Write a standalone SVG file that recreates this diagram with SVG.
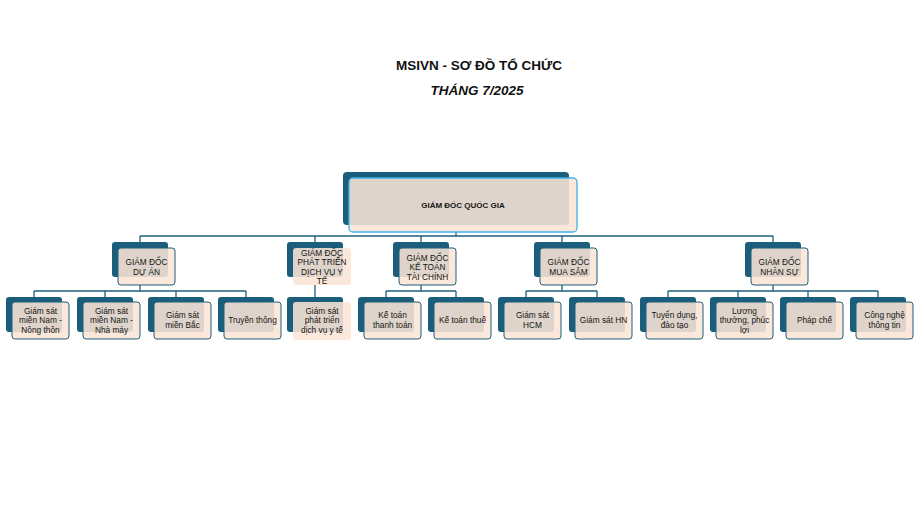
<svg xmlns="http://www.w3.org/2000/svg" width="918" height="505" viewBox="0 0 918 505">
<style>
.bg{fill:#ffffff}
.back{fill:#1b5e7b}
.front{fill:#fbe5d6;fill-opacity:0.88;stroke:#1f5f7c;stroke-width:1}
.front.nb{stroke:none}
.front.top{stroke:#3db4e5;stroke-width:1.3}
.conn{stroke:#1f5f7c;stroke-width:1.3;fill:none}
.t{font-family:"Liberation Sans",Arial,sans-serif;font-size:8.3px;fill:#141414;text-anchor:middle}
.tb{font-weight:bold;font-size:8px}
.title{font-family:"Liberation Sans",Arial,sans-serif;font-size:13.5px;font-weight:bold;fill:#111;text-anchor:middle}
</style>
<rect class="bg" x="0" y="0" width="918" height="505"/>
<text class="title" x="479" y="70">MSIVN - SƠ ĐỒ TỔ CHỨC</text>
<text class="title" x="477" y="95" font-style="italic">THÁNG 7/2025</text>

<g id="connectors">
<path class="conn" d="M456 232V236M140 236H773M140 236V242M315 236V242M421 236V242M562 236V242M773 236V242"/>
<path class="conn" d="M140 285V291M34 291H246M34 291V297M105 291V297M176 291V297M246 291V297"/>
<path class="conn" d="M315 285V297"/>
<path class="conn" d="M421 285V291M386 291H456M386 291V297M456 291V297"/>
<path class="conn" d="M562 285V291M526 291H597M526 291V297M597 291V297"/>
<path class="conn" d="M773 285V291M668 291H878M668 291V297M738 291V297M808 291V297M878 291V297"/>
</g>

<g id="n-quocgia">
<rect class="back" x="343" y="172" width="226" height="53" rx="4"/>
<rect class="front top" x="349" y="178" width="228" height="54" rx="4"/>
<text class="t tb" x="463" y="208">GIÁM ĐỐC QUỐC GIA</text>
</g>

<g id="n-duan">
<rect class="back" x="112" y="242" width="56" height="35" rx="3"/>
<rect class="front" x="118" y="248" width="57" height="37" rx="3"/>
<text class="t" x="146.5" y="265">GIÁM ĐỐC</text>
<text class="t" x="146.5" y="274.5">DỰ ÁN</text>
</g>

<g id="n-phattrien">
<rect class="back" x="287" y="242" width="56" height="35" rx="3"/>
<rect class="front nb" x="293" y="248" width="58" height="37" rx="3"/>
<text class="t" x="322" y="255.5">GIÁM ĐỐC</text>
<text class="t" x="322" y="265">PHÁT TRIỂN</text>
<text class="t" x="322" y="274.5">DỊCH VỤ Y</text>
<text class="t" x="322" y="284">TẾ</text>
</g>

<g id="n-ketoan">
<rect class="back" x="393" y="242" width="56" height="35" rx="3"/>
<rect class="front" x="399" y="248" width="57" height="37" rx="3"/>
<text class="t" x="427.5" y="260.5">GIÁM ĐỐC</text>
<text class="t" x="427.5" y="270">KẾ TOÁN</text>
<text class="t" x="427.5" y="279.5">TÀI CHÍNH</text>
</g>

<g id="n-muasam">
<rect class="back" x="534" y="242" width="56" height="35" rx="3"/>
<rect class="front" x="540" y="248" width="57" height="37" rx="3"/>
<text class="t" x="568.5" y="265">GIÁM ĐỐC</text>
<text class="t" x="568.5" y="274.5">MUA SẮM</text>
</g>

<g id="n-nhansu">
<rect class="back" x="745" y="242" width="56" height="35" rx="3"/>
<rect class="front" x="751" y="248" width="57" height="37" rx="3"/>
<text class="t" x="779.5" y="265">GIÁM ĐỐC</text>
<text class="t" x="779.5" y="274.5">NHÂN SỰ</text>
</g>

<g id="n-mnnongthon">
<rect class="back" x="6" y="297" width="56" height="35" rx="3"/>
<rect class="front" x="12" y="302" width="57" height="37" rx="3"/>
<text class="t" x="40.5" y="313.5">Giám sát</text>
<text class="t" x="40.5" y="323">miền Nam -</text>
<text class="t" x="40.5" y="332.5">Nông thôn</text>
</g>

<g id="n-mnnhamay">
<rect class="back" x="77" y="297" width="56" height="35" rx="3"/>
<rect class="front" x="83" y="302" width="57" height="37" rx="3"/>
<text class="t" x="111.5" y="313.5">Giám sát</text>
<text class="t" x="111.5" y="323">miền Nam -</text>
<text class="t" x="111.5" y="332.5">Nhà máy</text>
</g>

<g id="n-mienbac">
<rect class="back" x="148" y="297" width="56" height="35" rx="3"/>
<rect class="front" x="154" y="302" width="57" height="37" rx="3"/>
<text class="t" x="182.5" y="318">Giám sát</text>
<text class="t" x="182.5" y="327.5">miền Bắc</text>
</g>

<g id="n-truyenthong">
<rect class="back" x="218" y="297" width="56" height="35" rx="3"/>
<rect class="front" x="224" y="302" width="57" height="37" rx="3"/>
<text class="t" x="252.5" y="323">Truyền thông</text>
</g>

<g id="n-gsphattrien">
<rect class="back" x="287" y="297" width="56" height="35" rx="3"/>
<rect class="front nb" x="293" y="302" width="58" height="38" rx="3"/>
<text class="t" x="322" y="313.5">Giám sát</text>
<text class="t" x="322" y="323">phát triển</text>
<text class="t" x="322" y="332.5">dịch vụ y tế</text>
</g>

<g id="n-kttt">
<rect class="back" x="358" y="297" width="56" height="35" rx="3"/>
<rect class="front" x="364" y="302" width="57" height="37" rx="3"/>
<text class="t" x="392.5" y="318">Kế toán</text>
<text class="t" x="392.5" y="327.5">thanh toán</text>
</g>

<g id="n-ktthue">
<rect class="back" x="428" y="297" width="56" height="35" rx="3"/>
<rect class="front" x="434" y="302" width="57" height="37" rx="3"/>
<text class="t" x="462.5" y="323">Kế toán thuế</text>
</g>

<g id="n-hcm">
<rect class="back" x="498" y="297" width="56" height="35" rx="3"/>
<rect class="front" x="504" y="302" width="57" height="37" rx="3"/>
<text class="t" x="532.5" y="318">Giám sát</text>
<text class="t" x="532.5" y="327.5">HCM</text>
</g>

<g id="n-hn">
<rect class="back" x="569" y="297" width="56" height="35" rx="3"/>
<rect class="front" x="575" y="302" width="57" height="37" rx="3"/>
<text class="t" x="603.5" y="323">Giám sát HN</text>
</g>

<g id="n-tuyendung">
<rect class="back" x="640" y="297" width="56" height="35" rx="3"/>
<rect class="front" x="646" y="302" width="57" height="37" rx="3"/>
<text class="t" x="674.5" y="318">Tuyển dụng,</text>
<text class="t" x="674.5" y="327.5">đào tạo</text>
</g>

<g id="n-luong">
<rect class="back" x="710" y="297" width="56" height="35" rx="3"/>
<rect class="front" x="716" y="302" width="57" height="37" rx="3"/>
<text class="t" x="744.5" y="313.5">Lương</text>
<text class="t" x="744.5" y="323">thưởng, phúc</text>
<text class="t" x="744.5" y="332.5">lợi</text>
</g>

<g id="n-phapche">
<rect class="back" x="780" y="297" width="56" height="35" rx="3"/>
<rect class="front" x="786" y="302" width="57" height="37" rx="3"/>
<text class="t" x="814.5" y="323">Pháp chế</text>
</g>

<g id="n-congnghe">
<rect class="back" x="850" y="297" width="56" height="35" rx="3"/>
<rect class="front" x="856" y="302" width="57" height="37" rx="3"/>
<text class="t" x="884.5" y="318">Công nghệ</text>
<text class="t" x="884.5" y="327.5">thông tin</text>
</g>
</svg>
